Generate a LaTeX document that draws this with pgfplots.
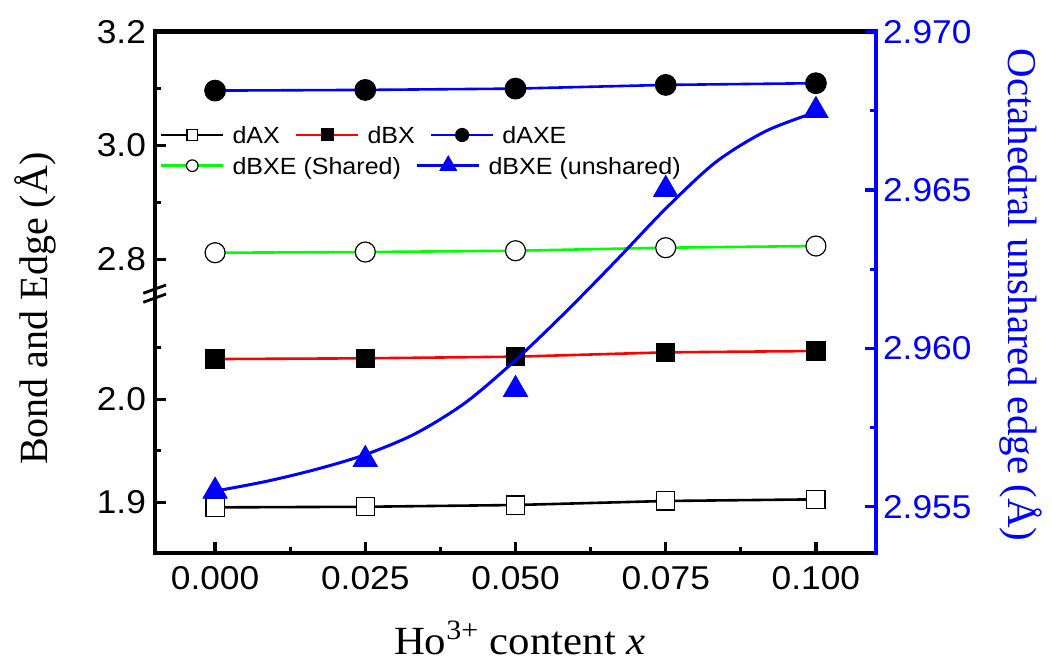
\documentclass[border=0pt]{standalone}
\usepackage{fontspec}
\setmainfont{Liberation Sans}[FakeStretch=1.07]
\newfontfamily\labelfont{Liberation Serif}
\newfontfamily\labelfontwide{Liberation Serif}[FakeStretch=1.07]
\usepackage{pgfplots}
\pgfplotsset{compat=1.18}

\definecolor{pblue}{RGB}{0,0,255}
\definecolor{pred}{RGB}{255,0,0}
\definecolor{pgreen}{RGB}{0,255,0}

\pgfplotsset{
  brokenaxis/.style={
    scale only axis, width=360.5pt,
    xmin=-0.01, xmax=0.11,
    scaled x ticks=false, scaled y ticks=false,
    tick align=inside,
    major tick length=5.3pt, minor tick length=2.8pt,
    tick style={line width=1.6pt, black},
    axis line style={line width=2.3pt, line cap=rect, -},
    every outer x axis line/.append style={-},
    every outer y axis line/.append style={-},
    ticklabel style={font=\fontsize{16.5}{16.5}\selectfont},
    /pgf/number format/assume math mode=true,
    clip=false,
  },
  fmtone/.style={/pgf/number format/fixed, /pgf/number format/fixed zerofill, /pgf/number format/precision=1},
  fmtthree/.style={/pgf/number format/fixed, /pgf/number format/fixed zerofill, /pgf/number format/precision=3},
  rowlegend/.style={
    legend style={at={(axis description cs:#1)}, anchor=west, draw=none, fill=none,
      inner sep=0pt, outer sep=0pt, font=\fontsize{11.7}{12}\selectfont,
      nodes={inner sep=0pt, text depth=0pt},
      /tikz/every odd column/.append style={column sep=4pt},
      /tikz/every even column/.append style={column sep=7.5pt}},
    legend image code/.code={\draw[mark repeat=2,mark phase=2,##1] plot coordinates {(0pt,0pt) (15.5pt,0pt) (31pt,0pt)};},
  },
}

% bond lengths (left scale)
\pgfplotstableread{
x      dAX     dBX     dAXE    dBXEs
0.000  1.8951  2.0391  3.0965  2.8116
0.025  1.8957  2.0398  3.0977  2.8128
0.050  1.8974  2.0414  3.1000  2.8151
0.075  1.9013  2.0456  3.1065  2.8204
0.100  1.9029  2.0469  3.1095  2.8234
}\bondtable

\begin{document}
\begin{tikzpicture}
% fixed canvas
\path (-77.5pt,-54pt) rectangle (448.5pt,276.5pt);

% lower part of the broken left axis
\begin{axis}[
  axis x line*=bottom, axis y line*=left,
  brokenaxis, name=lower, at={(0pt,0pt)}, anchor=south west, height=130pt,
  ymin=1.8508, ymax=2.1032,
  xtick={0,0.025,0.05,0.075,0.1}, minor xtick={0.0125,0.0375,0.0625,0.0875},
  ytick={1.9,2.0}, minor ytick={1.95,2.05},
  xticklabel style={fmtthree, yshift=-3.3pt},
  yticklabel style={fmtone, xshift=-1pt},
  xlabel={Ho\textsuperscript{3+} content \textit{x}},
  xlabel style={at={(axis description cs:0.506,-0.392)}, anchor=base, inner sep=0pt,
    font=\labelfontwide\fontsize{20}{20}\selectfont},
  ylabel={Bond and Edge (Å)},
  ylabel style={at={(axis description cs:-0.1484,0.940)}, anchor=base, inner sep=0pt,
    font=\labelfont\fontsize{20}{20}\selectfont},
]
\addplot[black, line width=1.3pt, mark=square*, mark size=4.55pt,
  mark options={fill=white, draw=black, line width=0.6pt}] table[x=x, y=dAX] {\bondtable};
\addplot[pred, line width=1.3pt, mark=square*, mark size=4.55pt,
  mark options={fill=black, draw=black, line width=0.6pt}] table[x=x, y=dBX] {\bondtable};
\end{axis}

% upper part of the broken left axis
\begin{axis}[
  axis x line*=top, axis y line*=left,
  brokenaxis, name=upper, at={(0pt,130pt)}, anchor=south west, height=130.65pt,
  ymin=2.7408, ymax=3.2,
  xtick=\empty,
  ytick={2.8,3.0,3.2}, minor ytick={2.9,3.1},
  yticklabel style={fmtone, xshift=-1pt},
  rowlegend={0.0069,0.6047}, legend columns=3,
  legend entries={dAX, dBX, dAXE},
]
\addlegendimage{black, line width=1.3pt, mark=square*, mark size=2.6pt,
  mark options={fill=white, draw=black, line width=0.6pt}}
\addlegendimage{pred, line width=1.3pt, mark=square*, mark size=2.6pt,
  mark options={fill=black, draw=black}}
\addlegendimage{pblue, line width=1.3pt, mark=*, mark size=2.9pt,
  mark options={fill=black, draw=black}}
\addplot[pblue, line width=1.3pt, mark=*, mark size=5.2pt, forget plot,
  mark options={fill=black, draw=black, line width=0.5pt}] table[x=x, y=dAXE] {\bondtable};
\addplot[pgreen, line width=1.3pt, mark=*, mark size=5pt, forget plot,
  mark options={fill=white, draw=black, line width=0.6pt}] table[x=x, y=dBXEs] {\bondtable};
\end{axis}

% right axis: octahedral unshared edge
\begin{axis}[
  axis y line*=right, axis x line=none,
  brokenaxis, name=right, at={(0pt,0pt)}, anchor=south west, height=260.65pt,
  ymin=2.953538, ymax=2.970,
  xtick=\empty,
  ytick={2.955,2.960,2.965,2.970}, minor ytick={2.9575,2.9625,2.9675},
  tick style={line width=1.6pt, pblue},
  y axis line style={pblue},
  yticklabel style={fmtthree, pblue},
  ylabel={Octahedral unshared edge (Å)},
  ylabel style={at={(axis description cs:1.1831,0.495)}, anchor=base, rotate=180, inner sep=0pt,
    pblue, font=\labelfont\fontsize{20.5}{20.5}\selectfont},
  rowlegend={0.0069,0.743}, legend columns=2,
  legend entries={dBXE (Shared), dBXE (unshared)},
]
\addlegendimage{pgreen, line width=1.3pt, mark=*, mark size=2.9pt,
  mark options={fill=white, draw=black, line width=0.6pt}}
\addlegendimage{pblue, line width=1.3pt, mark=triangle*, mark size=4pt,
  mark options={fill=pblue, draw=pblue}}
% smoothed trend curve
\addplot[pblue, line width=1.5pt, smooth, forget plot] coordinates {
  (0.000000,2.955493) (0.008333,2.955793) (0.016667,2.956172) (0.025000,2.956645)
  (0.033333,2.957308) (0.041667,2.958287) (0.050000,2.959629) (0.058333,2.961145)
  (0.066667,2.962756) (0.075000,2.964414) (0.083333,2.965882) (0.091667,2.966861)
  (0.100000,2.967461)};
% measured values
\addplot[only marks, mark=triangle*, mark size=7pt, forget plot,
  mark options={fill=pblue, draw=pblue}] coordinates {
  (0.000,2.95549) (0.025,2.95649) (0.050,2.95870) (0.075,2.96502) (0.100,2.96751)};
\end{axis}

% axis break marks
\draw[line width=1.4pt] (-5.85pt,129.85pt) -- (5.5pt,134pt);
\draw[line width=1.4pt] (-5.85pt,125.35pt) -- (5.5pt,129.5pt);
\end{tikzpicture}
\end{document}
